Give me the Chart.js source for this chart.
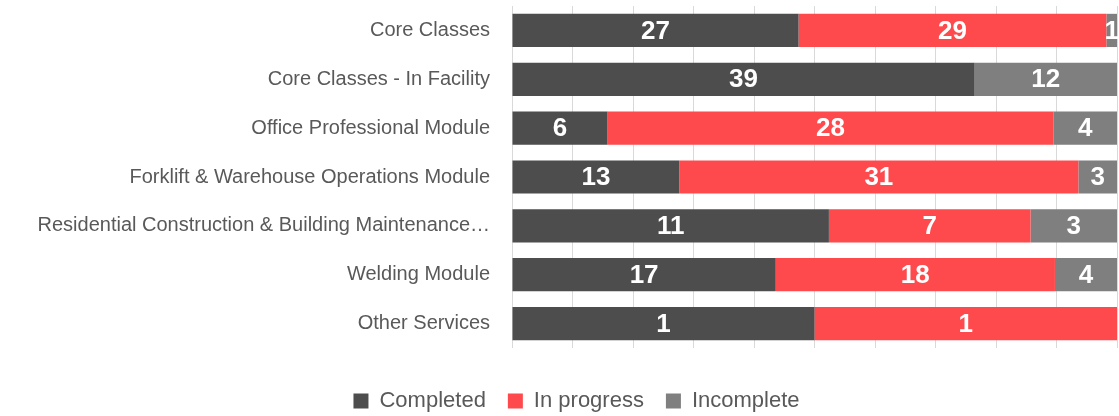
<!DOCTYPE html>
<html>
<head>
<meta charset="utf-8">
<script src="https://cdn.jsdelivr.net/npm/chart.js@4/dist/chart.umd.min.js"></script>
<style>
  html, body { margin: 0; padding: 0; background: #fff; }
  #wrap { width: 1119px; height: 416px; position: relative; }
</style>
</head>
<body>
<div id="wrap"><canvas id="chart"></canvas></div>
<script>
const categories = [
  "Core Classes",
  "Core Classes - In Facility",
  "Office Professional Module",
  "Forklift & Warehouse Operations Module",
  "Residential Construction & Building Maintenance\u2026",
  "Welding Module",
  "Other Services"
];
const completed = [27, 39, 6, 13, 11, 17, 1];
const inProgress = [29, 0, 28, 31, 7, 18, 1];
const incomplete = [1, 12, 4, 3, 3, 4, 0];

const COLORS = {
  completed: "#4d4d4d",
  inProgress: "#ff4a4d",
  incomplete: "#7f7f7f"
};
const FONT = '"Liberation Sans", Arial, sans-serif';

// 100% stacked: turn counts into shares of each row
const totals = categories.map((_, i) => completed[i] + inProgress[i] + incomplete[i]);
const share = (arr) => arr.map((v, i) => (v / totals[i]) * 100);

// draws the count in the middle of each segment
const segmentLabels = {
  id: "segmentLabels",
  afterDatasetsDraw(chart) {
    const ctx = chart.ctx;
    ctx.save();
    ctx.font = "bold 26px " + FONT;
    ctx.fillStyle = "#ffffff";
    ctx.textAlign = "center";
    ctx.textBaseline = "middle";
    chart.data.datasets.forEach((ds, i) => {
      const meta = chart.getDatasetMeta(i);
      meta.data.forEach((bar, j) => {
        const count = ds.counts[j];
        if (!count) return;
        ctx.fillText(String(count), (bar.x + bar.base) / 2, bar.y + 1);
      });
    });
    ctx.restore();
  }
};

// legend in the original sits a bit right of center and a bit lower
const legendShift = {
  id: "legendShift",
  afterLayout(chart) {
    const lg = chart.legend;
    lg.left += 18;
    lg.right += 18;
    lg.top += 3;
    lg.bottom += 3;
  }
};

const makeSet = (label, counts, color) => ({
  label: label,
  data: share(counts),
  counts: counts,
  backgroundColor: color,
  borderWidth: 0,
  barPercentage: 0.68,
  categoryPercentage: 1
});

new Chart(document.getElementById("chart"), {
  type: "bar",
  data: {
    labels: categories,
    datasets: [
      makeSet("Completed", completed, COLORS.completed),
      makeSet("In progress", inProgress, COLORS.inProgress),
      makeSet("Incomplete", incomplete, COLORS.incomplete)
    ]
  },
  options: {
    indexAxis: "y",
    responsive: true,
    maintainAspectRatio: false,
    animation: false,
    layout: { padding: { top: 6, right: 2, left: 0, bottom: -3 } },
    scales: {
      x: {
        stacked: true,
        min: 0,
        max: 100,
        ticks: { display: false, stepSize: 10 },
        grid: { color: "#d9d9d9", drawTicks: false },
        border: { display: false },
        afterFit(scale) { scale.height = 17; }
      },
      y: {
        stacked: true,
        grid: { display: false, tickLength: 28 },
        border: { display: false },
        ticks: {
          color: "#595959",
          padding: -6,
          font: { family: FONT, size: 20 }
        },
        afterFit(scale) { scale.width = 512; }
      }
    },
    plugins: {
      tooltip: { enabled: false },
      legend: {
        position: "bottom",
        labels: {
          color: "#595959",
          boxWidth: 15,
          boxHeight: 15,
          padding: 22,
          font: { family: FONT, size: 22 }
        }
      }
    }
  },
  plugins: [segmentLabels, legendShift]
});
</script>
</body>
</html>
